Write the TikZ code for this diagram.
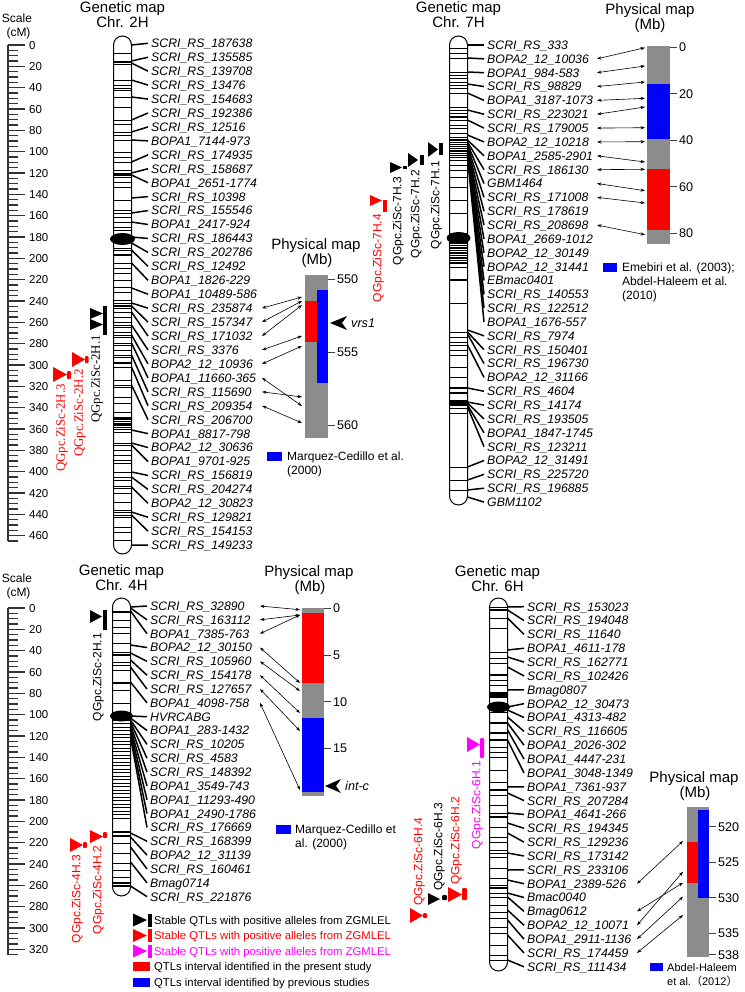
\documentclass[tikz,border=0pt]{standalone}
\usepackage{fontspec}
\setmainfont{Liberation Sans}
\newfontfamily\qserif{Liberation Serif}
\newfontfamily\cjkf{Noto Sans CJK SC}
\usetikzlibrary{arrows.meta}
\definecolor{pgray}{RGB}{140,140,140}
\definecolor{qred}{RGB}{255,0,0}
\definecolor{qblue}{RGB}{0,0,255}
\definecolor{qmag}{RGB}{255,0,255}
\newcommand\mkf{\fontsize{12.3}{14}\selectfont\itshape}
\newcommand\ttlf{\fontsize{15}{16}\selectfont}
\newcommand\tkf{\fontsize{12.6}{14}\selectfont}
\newcommand\lgf{\fontsize{11.3}{14}\selectfont}
\newcommand\plf{\fontsize{12}{14}\selectfont}
\newcommand\rlf{\fontsize{11.5}{14}\selectfont}
\newcommand\scf{\fontsize{12}{14}\selectfont}
\newcommand\qsf{\fontsize{12}{14}\selectfont}
\newcommand\qtf{\fontsize{12.8}{14}\selectfont\qserif}
\begin{document}
\begin{tikzpicture}[x=1pt,y=-1pt,
  chr/.style={line width=1pt, fill=white},
  bd/.style={line width=0.7pt},
  bdk/.style={line width=2.4pt},
  cn/.style={line width=1.5pt},
  mk/.style={anchor=west, inner sep=0pt, font=\mkf, text height=8.8pt, text depth=0pt},
  dbl/.style={{Stealth[length=4.5pt,width=3.2pt]}-{Stealth[length=4.5pt,width=3.2pt]}, line width=0.6pt},
  ttl/.style={inner sep=0pt, font=\ttlf, text height=10.7pt, text depth=0pt},
  tk/.style={anchor=west, inner sep=0pt, font=\tkf, text height=9pt, text depth=0pt},
  tkl/.style={line width=0.8pt, black!75},
  rl/.style={line width=1.1pt, black!80},
  sl/.style={anchor=west, inner sep=0pt, font=\rlf, text height=8.3pt, text depth=0pt},
  sct/.style={inner sep=0pt, font=\scf, text height=8.6pt, text depth=0pt},
  qs/.style={rotate=90, inner sep=0pt, font=\qsf, text height=8.6pt, text depth=0pt},
  qt/.style={rotate=90, inner sep=0pt, font=\qtf, text height=8.5pt, text depth=0pt},
  lg/.style={anchor=west, inner sep=0pt, font=\lgf, text height=8.1pt, text depth=0pt},
  pl/.style={anchor=west, inner sep=0pt, font=\plf, text height=8.6pt, text depth=0pt},
]
\useasboundingbox (0,0) rectangle (744,992);
\fill[white] (0,0) rectangle (744,992);

% ================= TOP SCALE
\node[sct] (scA) at (17,18) {Scale};
\node[sct] (scB) at (18.5,32) {(cM)};
\draw[rl] (8,45) -- (8,541);
\foreach \cm in {5,10,...,465} \draw[rl] (8,{45+1.0667*\cm}) -- (18,{45+1.0667*\cm});
\foreach \cm in {0,20,...,460} {
  \draw[rl] (8,{45+1.0667*\cm}) -- (25,{45+1.0667*\cm});
  \node[sl] (sa\cm) at (29,{45+1.0667*\cm}) {\cm};
}

% ================= CHR 2H
\node[ttl] (g2a) at (122.5,7.5) {Genetic map};
\node[ttl] (g2b) at (122.5,22) {Chr. 2H};
\draw[chr, rounded corners=9pt] (113.5,36) rectangle (131.5,554);
\foreach \y in {53,64,80,85,88,90,97,107,120,124,132,135,140,152,157,162,170,173,177,182,187,200,210,213,217,222,227,230,248,250,263,268,273,280,287,292,300,303,308,312,317,322,325,327,332,335,337,343,345,350,355,357,367,380,385,387,397,403,412,417,421,423,427,429,432,443,445,450,455,460,463,472,477,480,486,488,493,502,510,512,515,517,527,532,540}
  \draw[bd] (113.5,\y) -- (131.5,\y);
\foreach \y in {62,175,255,306,363,419,425}
  \draw[bdk] (113.5,\y) -- (131.5,\y);
\fill (122.5,239) ellipse [x radius=12.5, y radius=6];
\foreach \cy/\nm [count=\i from 0] in {45/SCRI\_RS\_187638, 61/SCRI\_RS\_135585, 63/SCRI\_RS\_139708, 80/SCRI\_RS\_13476, 97/SCRI\_RS\_154683, 120/SCRI\_RS\_192386, 132/SCRI\_RS\_12516, 140/BOPA1\_7144-973, 162/SCRI\_RS\_174935, 173/SCRI\_RS\_158687, 175/BOPA1\_2651-1774, 198/SCRI\_RS\_10398, 213/SCRI\_RS\_155546, 222/BOPA1\_2417-924, 237/SCRI\_RS\_186443, 243/SCRI\_RS\_202786, 250/SCRI\_RS\_12492, 263/BOPA1\_1826-229, 288/BOPA1\_10489-586, 303/SCRI\_RS\_235874, 306/SCRI\_RS\_157347, 312/SCRI\_RS\_171032, 325/SCRI\_RS\_3376, 335/BOPA2\_12\_10936, 343/BOPA1\_11660-365, 355/SCRI\_RS\_115690, 367/SCRI\_RS\_209354, 385/SCRI\_RS\_206700, 430/BOPA1\_8817-798, 443/BOPA2\_12\_30636, 445/BOPA1\_9701-925, 472/SCRI\_RS\_156819, 477/SCRI\_RS\_204274, 487/BOPA2\_12\_30823, 512/SCRI\_RS\_129821, 515/SCRI\_RS\_154153, 545/SCRI\_RS\_149233}
{
  \node[mk] (m2h\i) at (151,{43.3+13.94*\i}) {\nm};
  \coordinate (c2h\i) at (131.5,\cy);
  \draw[cn] (c2h\i) -- ([xshift=-3pt]m2h\i.west);
}
% QTLs 2H
\fill (90,308) -- (90,319) -- (103,313.5) -- cycle;
\fill (90,319) -- (90,330) -- (103,324.5) -- cycle;
\fill (103,306) rectangle (106.5,335);
\node[qt, anchor=east] (q2h1) at (95.5,335) {QGpc.ZiSc-2H.1};
\fill[qred] (72,352) -- (72,367) -- (85,359.5) -- cycle;
\fill[qred, rounded corners=1pt] (85,356) rectangle (88.5,363);
\node[qt, anchor=east, text=qred] (q2h2) at (78.5,369) {QGpc.ZiSc-2H.2};
\fill[qred] (53,367) -- (53,382) -- (67,374.5) -- cycle;
\fill[qred, rounded corners=1pt] (67,371) rectangle (71,379);
\node[qt, anchor=east, text=qred] (q2h3) at (60.5,384) {QGpc.ZiSc-2H.3};
% Physical map 2H
\node[ttl] (p2a) at (316,244.5) {Physical map};
\node[ttl] (p2b) at (317,259.5) {(Mb)};
\fill[pgray] (305,275) rectangle (328,438);
\fill[qred] (305,301) rectangle (317,342);
\fill[qblue] (317,290) rectangle (328,383);
\foreach \v/\yy in {550/279,555/352,560/425} {
  \draw[tkl] (328,\yy) -- (335,\yy);
  \node[tk] (k2h\v) at (337,\yy) {\v};
}
\fill (330,323) -- (347,316) -- (342,323) -- (347,330) -- cycle;
\node[tk, font=\tkf\itshape] (vrs) at (351,323) {vrs1};
\coordinate (ax2h) at (262,0);
\foreach \i/\py in {19/297,20/301,21/305,22/336,23/346,24/406,25/397,26/423}
  \draw[dbl] (m2h\i.west -| ax2h) -- (302,\py);
\fill[qblue] (267,452) rectangle (282,461);
\node[pl] (l2a) at (287,456.5) {Marquez-Cedillo et al.};
\node[pl] (l2b) at (287,470.5) {(2000)};

% ================= CHR 7H
\node[ttl] (g7a) at (458.5,7.5) {Genetic map};
\node[ttl] (g7b) at (458.5,22) {Chr. 7H};
\draw[chr, rounded corners=9pt] (449.5,36) rectangle (467.5,505);
\foreach \y in {48,53,58,72,75,78,82,85,88,93,107,110,113,120,125,128,133,137,160,165,170,177,187,200,213,233,267,303,332,337,342,345,350,355,367,377,408,413,467,480,490}
  \draw[bd] (449.5,\y) -- (467.5,\y);
\foreach \y in {140,142.2,...,158}
  \draw[line width=1.1pt] (449.5,\y) -- (467.5,\y);
\foreach \y in {243,245.5,...,263}
  \draw[line width=1.1pt] (449.5,\y) -- (467.5,\y);
\foreach \y in {117,280,388,393}
  \draw[bdk] (449.5,\y) -- (467.5,\y);
\fill (449.5,400) rectangle (467.5,406);
\fill (458.5,238) ellipse [x radius=12, y radius=6];
\foreach \cy/\nm [count=\i from 0] in {45/SCRI\_RS\_333, 58/BOPA2\_12\_10036, 72/BOPA1\_984-583, 84/SCRI\_RS\_98829, 93/BOPA1\_3187-1073, 110/SCRI\_RS\_223021, 120/SCRI\_RS\_179005, 135/BOPA2\_12\_10218, 140/BOPA1\_2585-2901, 142/SCRI\_RS\_186130, 144/GBM1464, 146/SCRI\_RS\_171008, 148/SCRI\_RS\_178619, 150/SCRI\_RS\_208698, 151/BOPA1\_2669-1012, 152/BOPA2\_12\_30149, 153/BOPA2\_12\_31441, 154/EBmac0401, 155/SCRI\_RS\_140553, 156/SCRI\_RS\_122512, 157/BOPA1\_1676-557, 330/SCRI\_RS\_7974, 332/SCRI\_RS\_150401, 334/SCRI\_RS\_196730, 345/BOPA2\_12\_31166, 388/SCRI\_RS\_4604, 402/SCRI\_RS\_14174, 403/SCRI\_RS\_193505, 405/BOPA1\_1847-1745, 407/SCRI\_RS\_123211, 467/BOPA2\_12\_31491, 480/SCRI\_RS\_225720, 490/SCRI\_RS\_196885, 497/GBM1102}
{
  \node[mk] (m7h\i) at (487,{45+13.85*\i}) {\nm};
  \coordinate (c7h\i) at (467.5,\cy);
  \draw[cn] (c7h\i) -- ([xshift=-3pt]m7h\i.west);
}
% QTLs 7H
\fill (428,142) -- (428,157) -- (438,149.5) -- cycle;
\fill (438.5,143) rectangle (442.5,155);
\node[qs, anchor=east] (q7h1) at (435,161) {QGpc.ZiSc-7H.1};
\fill (408,153) -- (408,167) -- (418,160) -- cycle;
\fill (419.5,155) rectangle (423.5,165);
\node[qs, anchor=east] (q7h2) at (415,170) {QGpc.ZiSc-7H.2};
\fill (390,162) -- (390,173) -- (402,167.5) -- cycle;
\fill (402.5,166) rectangle (406.5,169.5);
\node[qs, anchor=east] (q7h3) at (397,177) {QGpc.ZiSc-7H.3};
\fill[qred] (370,195) -- (370,206) -- (382,200.5) -- cycle;
\fill[qred] (383,200) rectangle (387,212);
\node[qs, anchor=east, text=qred] (q7h4) at (377,214) {QGpc.ZiSc-7H.4};
% Physical map 7H
\node[ttl] (p7a) at (650,9.5) {Physical map};
\node[ttl] (p7b) at (650,24) {(Mb)};
\fill[pgray] (647,46) rectangle (670,244);
\fill[qblue] (647,84) rectangle (670,139);
\fill[qred] (647,169) rectangle (670,230);
\foreach \v/\yy in {0/47.3,20/93.8,40/140.3,60/186.8,80/233.3} {
  \draw[tkl] (670,\yy) -- (677,\yy);
  \node[tk] (k7h\v) at (679,\yy) {\v};
}
\coordinate (ax7h) at (597,0);
\foreach \i/\py in {1/47.7,2/66,3/82,4/98.3,5/107,6/127.7,7/141.7,8/162,9/169.3,10/190.7,11/203,13/234.7}
  \draw[dbl] (m7h\i.west -| ax7h) -- (645,\py);
\fill[qblue] (603,263) rectangle (617,272);
\node[pl] (l7a) at (622,267.5) {Emebiri et al. (2003);};
\node[pl] (l7b) at (622,281.5) {Abdel-Haleem et al.};
\node[pl] (l7c) at (622,295.5) {(2010)};

% ================= BOTTOM SCALE
\node[sct] (scC) at (17,578) {Scale};
\node[sct] (scD) at (18.5,592) {(cM)};
\draw[rl] (8,608) -- (8,955);
\foreach \cm in {5,10,...,325} \draw[rl] (8,{608+1.0667*\cm}) -- (18,{608+1.0667*\cm});
\foreach \cm in {0,20,...,320} {
  \draw[rl] (8,{608+1.0667*\cm}) -- (25,{608+1.0667*\cm});
  \node[sl] (sb\cm) at (29,{608+1.0667*\cm}) {\cm};
}

% ================= CHR 4H
\node[ttl] (g4a) at (121.5,570.5) {Genetic map};
\node[ttl] (g4b) at (121.5,585) {Chr. 4H};
\draw[chr, rounded corners=9pt] (112.5,598) rectangle (130.5,896);
\foreach \y in {620,627,633,643,652,662,665,670,690,703,843,853,863,870,877}
  \draw[bd] (112.5,\y) -- (130.5,\y);
\foreach \y in {720,723.5,...,820}
  \draw[line width=0.9pt] (112.5,\y) -- (130.5,\y);
\foreach \y in {612,655,683,832,836,883,886}
  \draw[bdk] (112.5,\y) -- (130.5,\y);
\fill (121.5,716) ellipse [x radius=11.5, y radius=5.5];
\foreach \cy/\nm [count=\i from 0] in {607/SCRI\_RS\_32890, 608/SCRI\_RS\_163112, 611/BOPA1\_7385-763, 645/BOPA2\_12\_30150, 653/SCRI\_RS\_105960, 660/SCRI\_RS\_154178, 667/SCRI\_RS\_127657, 682/BOPA1\_4098-758, 716/HVRCABG, 718/BOPA1\_283-1432, 720/SCRI\_RS\_10205, 722/SCRI\_RS\_4583, 725/SCRI\_RS\_148392, 728/BOPA1\_3549-743, 731/BOPA1\_11293-490, 734/BOPA1\_2490-1786, 737/SCRI\_RS\_176669, 833/SCRI\_RS\_168399, 837/BOPA2\_12\_31139, 847/SCRI\_RS\_160461, 862/Bmag0714, 886/SCRI\_RS\_221876}
{
  \node[mk] (m4h\i) at (150,{606+13.84*\i}) {\nm};
  \coordinate (c4h\i) at (130.5,\cy);
  \draw[cn] (c4h\i) -- ([xshift=-3pt]m4h\i.west);
}
% QTLs 4H
\fill (90,610) -- (90,623) -- (102,616.5) -- cycle;
\fill (103,610) rectangle (107,630);
\node[qs, anchor=east] (q4h1) at (97,633) {QGpc.ZiSc-2H.1};
\fill[qred] (90,830) -- (90,843) -- (103,836.5) -- cycle;
\fill[qred, rounded corners=1pt] (103,832) rectangle (107,838);
\node[qs, anchor=east, text=qred] (q4h2) at (97,846) {QGpc.ZiSc-4H.2};
\fill[qred] (70,838) -- (70,852) -- (83,845) -- cycle;
\fill[qred, rounded corners=1pt] (83,842) rectangle (87,848);
\node[qs, anchor=east, text=qred] (q4h3) at (76,855) {QGpc.ZiSc-4H.3};
% Physical map 4H
\node[ttl] (p4a) at (309,571.5) {Physical map};
\node[ttl] (p4b) at (310,586) {(Mb)};
\fill[pgray] (302,608) rectangle (324,796);
\fill[qred] (302,613) rectangle (324,683);
\fill[qblue] (302,718) rectangle (324,792);
\foreach \v/\yy in {0/608.3,5/655,10/701.7,15/748.3} {
  \draw[tkl] (324,\yy) -- (331,\yy);
  \node[tk] (k4h\v) at (333,\yy) {\v};
}
\fill (325,786) -- (341,779) -- (336,786) -- (341,793) -- cycle;
\node[tk, font=\tkf\itshape] (intc) at (345,786) {int-c};
\coordinate (ax4h) at (260,0);
\foreach \i/\py in {0/609.7,1/615,2/615,3/683,4/691,5/713,6/731,7/790}
  \draw[dbl] (m4h\i.west -| ax4h) -- (300,\py);
\fill[qblue] (276,825) rectangle (291,834);
\node[pl] (l4a) at (295,829.5) {Marquez-Cedillo et};
\node[pl] (l4b) at (295,843.5) {al. (2000)};

% ================= CHR 6H
\node[ttl] (g6a) at (497.5,571.5) {Genetic map};
\node[ttl] (g6b) at (497.5,586) {Chr. 6H};
\draw[chr, rounded corners=9pt] (489.5,598) rectangle (507.5,971);
\foreach \y in {607,618,628,652,658,663,680,685,712,747,752,757,770,782,795,805,813,827,837,842,850,853,857,868,878,885,893,897,905,912,918,927,933,945,955,960}
  \draw[bd] (489.5,\y) -- (507.5,\y);
\foreach \y in {610,675,723,733,740,790,817,888}
  \draw[bdk] (489.5,\y) -- (507.5,\y);
\fill (489.5,692) rectangle (507.5,698);
\fill (498.5,707) ellipse [x radius=11.5, y radius=5.5];
\foreach \cy/\nm [count=\i from 0] in {607/SCRI\_RS\_153023, 610/SCRI\_RS\_194048, 618/SCRI\_RS\_11640, 650/BOPA1\_4611-178, 657/SCRI\_RS\_162771, 667/SCRI\_RS\_102426, 690/Bmag0807, 707/BOPA2\_12\_30473, 710/BOPA1\_4313-482, 717/SCRI\_RS\_116605, 723/BOPA1\_2026-302, 730/BOPA1\_4447-231, 740/BOPA1\_3048-1349, 787/BOPA1\_7361-937, 793/SCRI\_RS\_207284, 813/BOPA1\_4641-266, 823/SCRI\_RS\_194345, 833/SCRI\_RS\_129236, 853/SCRI\_RS\_173142, 870/SCRI\_RS\_233106, 880/BOPA1\_2389-526, 893/Bmac0040, 897/Bmag0612, 910/BOPA2\_12\_10071, 920/BOPA1\_2911-1136, 935/SCRI\_RS\_174459, 960/SCRI\_RS\_111434}
{
  \node[mk] (m6h\i) at (527,{606.7+13.85*\i}) {\nm};
  \coordinate (c6h\i) at (507.5,\cy);
  \draw[cn] (c6h\i) -- ([xshift=-3pt]m6h\i.west);
}
% QTLs 6H
\fill[qmag] (467,737) -- (467,752) -- (480,744.5) -- cycle;
\fill[qmag, rounded corners=1pt] (480,738) rectangle (484,758);
\node[qs, anchor=east, text=qmag] (q6h1) at (476,761) {QGpc.ZiSc-6H.1};
\fill[qred] (448,887) -- (448,902) -- (462,894.5) -- cycle;
\fill[qred, rounded corners=1pt] (462,888) rectangle (467,900);
\node[qs, anchor=west, text=qred] (q6h2) at (455,885) {QGpc.ZiSc-6H.2};
\fill (428,893) -- (428,905) -- (440,899) -- cycle;
\fill[rounded corners=1pt] (442,895) rectangle (447,900);
\node[qs, anchor=west] (q6h3) at (438,891) {QGpc.ZiSc-6H.3};
\fill[qred] (410,908) -- (410,923) -- (423,915.5) -- cycle;
\fill[qred, rounded corners=1pt] (423,913) rectangle (427,918);
\node[qs, anchor=west, text=qred] (q6h4) at (418,906) {QGpc.ZiSc-6H.4};
% Physical map 6H
\node[ttl] (p6a) at (694,777.5) {Physical map};
\node[ttl] (p6b) at (695,792) {(Mb)};
\fill[pgray] (687,807) rectangle (709,957);
\fill[qblue] (698,810) rectangle (709,898);
\fill[qred] (687,842) rectangle (698,883);
\foreach \v/\yy in {520/826.7,525/862.2,530/897.7,535/933.2,538/954.5} {
  \draw[tkl] (709,\yy) -- (716,\yy);
  \node[tk] (k6h\v) at (718,\yy) {\v};
}
\coordinate (ax6h) at (637,0);
\foreach \i/\py in {20/841,22/882.7,23/871.7,24/896.7,25/915}
  \draw[dbl] (m6h\i.west -| ax6h) -- (683,\py);
\fill[qblue] (650,963) rectangle (663,971);
\node[pl, font=\fontsize{11}{13}\selectfont] (l6a) at (667,967) {Abdel-Haleem};
\node[pl, font=\fontsize{11}{13}\selectfont] (l6b) at (667,981) {et al.{\cjkf （}2012{\cjkf ）}};

% ================= LEGEND
\fill (133,913.5) -- (133,926.5) -- (147,920) -- cycle;
\fill (147.5,913.5) rectangle (151.5,926.5);
\node[lg] (lg1) at (154,920) {Stable QTLs with positive alleles from ZGMLEL};
\fill[qred] (133,929) -- (133,942) -- (147,935.5) -- cycle;
\fill[qred] (147.5,929) rectangle (151.5,942);
\node[lg, text=qred] (lg2) at (154,935.5) {Stable QTLs with positive alleles from ZGMLEL};
\fill[qmag] (133,944.5) -- (133,957.5) -- (147,951) -- cycle;
\fill[qmag] (147.5,944.5) rectangle (151.5,957.5);
\node[lg, text=qmag] (lg3) at (154,951) {Stable QTLs with positive alleles from ZGMLEL};
\fill[qred] (133,962) rectangle (150,971);
\node[lg] (lg4) at (154,966.5) {QTLs interval identified in the present study};
\fill[qblue] (133,977.5) rectangle (150,986.5);
\node[lg] (lg5) at (154,982) {QTLs interval identified by previous studies};
\end{tikzpicture}
\end{document}
